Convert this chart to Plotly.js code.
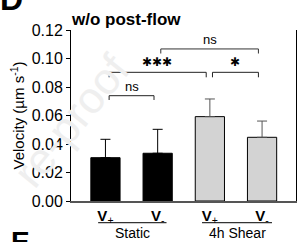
<!DOCTYPE html>
<html>
<head>
<meta charset="utf-8">
<script src="https://cdn.plot.ly/plotly-3.0.1.min.js"></script>
<style>html,body{margin:0;padding:0;background:#fff;}#chart{width:298px;height:242px;}</style>
</head>
<body>
<div id="chart"></div>
<script>
// Data
const categories = [0, 1, 2, 3];
const tickLabels = ["<b>V</b><sub>+</sub>", "<b>V</b><sub>-</sub>", "<b>V</b><sub>+</sub>", "<b>V</b><sub>-</sub>"];
const groupLabels = ["Static", "4h Shear"];
const velocity = [0.0304, 0.0335, 0.0592, 0.0447];
const errorPlus = [0.0129, 0.0168, 0.0124, 0.0114];
const barColors = ["#000000", "#000000", "#d3d3d3", "#d3d3d3"];
const sigLabels = ["ns", "✱✱✱", "✱", "ns"];

const font = "Liberation Sans, Arial, sans-serif";

const traces = [
  {
    type: "bar", x: categories.slice(0, 2), y: velocity.slice(0, 2), width: 0.56,
    marker: {color: barColors.slice(0, 2), line: {color: "#000", width: 1}},
    error_y: {type: "data", array: errorPlus.slice(0, 2), symmetric: false, arrayminus: [0, 0], color: "#000", thickness: 1, width: 5},
    hoverinfo: "none"
  },
  {
    type: "bar", x: categories.slice(2), y: velocity.slice(2), width: 0.56,
    marker: {color: barColors.slice(2), line: {color: "#000", width: 1}},
    error_y: {type: "data", array: errorPlus.slice(2), symmetric: false, arrayminus: [0, 0], color: "#555", thickness: 1, width: 5},
    hoverinfo: "none"
  }
];

function bracket(x0, x1, y, drop, color) {
  return [
    {type: "line", xref: "x", yref: "y", x0: x0, x1: x1, y0: y, y1: y, line: {color: color, width: 1}},
    {type: "line", xref: "x", yref: "y", x0: x0, x1: x0, y0: y, y1: y - drop, line: {color: color, width: 1}},
    {type: "line", xref: "x", yref: "y", x0: x1, x1: x1, y0: y, y1: y - drop, line: {color: color, width: 1}}
  ];
}

const shapes = [].concat(
  bracket(0.07, 0.93, 0.0739, 0.003, "#222"),
  bracket(0.07, 1.93, 0.0903, 0.0035, "#222"),
  bracket(2.05, 2.93, 0.0903, 0.0035, "#222"),
  bracket(1.06, 2.93, 0.1067, 0.0032, "#333"),
  [
    {type: "line", xref: "x", yref: "paper", x0: -0.14, x1: 1.17, y0: -0.127, y1: -0.127, line: {color: "#000", width: 1}},
    {type: "line", xref: "x", yref: "paper", x0: 1.85, x1: 3.19, y0: -0.127, y1: -0.127, line: {color: "#000", width: 1}}
  ]
);

const annotations = [
  {text: "re-proof", xref: "paper", yref: "paper", x: 0.0, y: 0.47, xanchor: "center", yanchor: "middle", showarrow: false, textangle: -51,
   font: {family: font, size: 44, color: "#efefef"}},
  {text: sigLabels[0], xref: "x", yref: "y", x: 0.5, y: 0.0739, yanchor: "bottom", showarrow: false, font: {family: font, size: 13, color: "#000"}},
  {text: sigLabels[1], xref: "x", yref: "y", x: 0.98, y: 0.0912, yanchor: "bottom", showarrow: false, font: {family: "DejaVu Sans", size: 12, color: "#000"}},
  {text: sigLabels[2], xref: "x", yref: "y", x: 2.49, y: 0.0912, yanchor: "bottom", showarrow: false, font: {family: "DejaVu Sans", size: 12, color: "#000"}},
  {text: sigLabels[3], xref: "x", yref: "y", x: 1.995, y: 0.1067, yanchor: "bottom", showarrow: false, font: {family: font, size: 13, color: "#000"}},
  {text: groupLabels[0], xref: "x", yref: "paper", x: 0.52, y: -0.13, yanchor: "top", showarrow: false, font: {family: font, size: 14, color: "#000"}},
  {text: groupLabels[1], xref: "x", yref: "paper", x: 2.52, y: -0.13, yanchor: "top", showarrow: false, font: {family: font, size: 14, color: "#000"}},
  {text: "<b>w/o post-flow</b>", xref: "paper", yref: "paper", x: -0.008, y: 0.995, xanchor: "left", yanchor: "bottom", showarrow: false, font: {family: font, size: 17, color: "#000"}},
  {text: "<b>D</b>", xref: "paper", yref: "paper", x: -0.325, y: 1.062, xanchor: "left", yanchor: "bottom", showarrow: false, font: {family: font, size: 32, color: "#000"}},
  {text: "<b>E</b>", xref: "paper", yref: "paper", x: -0.275, y: -0.135, xanchor: "left", yanchor: "top", showarrow: false, font: {family: font, size: 28, color: "#000"}}
];

const layout = {
  width: 298, height: 242,
  margin: {l: 71, r: 2, t: 30, b: 41, pad: 0},
  paper_bgcolor: "#fff", plot_bgcolor: "rgba(0,0,0,0)",
  showlegend: false,
  font: {family: font, color: "#000"},
  bargap: 0,
  xaxis: {
    range: [-0.66, 3.65], tickvals: categories, ticktext: tickLabels,
    showgrid: false, zeroline: false, showline: true, linecolor: "#555", linewidth: 1.5,
    ticks: "", mirror: false, tickfont: {family: font, size: 15, color: "#000"}, fixedrange: true
  },
  yaxis: {
    range: [0, 0.12], dtick: 0.02, tickformat: ".2f",
    showgrid: false, zeroline: false, showline: true, linecolor: "#000", linewidth: 1,
    ticks: "outside", ticklen: 4, tickcolor: "#000", mirror: true,
    tickfont: {family: font, size: 16, color: "#000"},
    title: {text: "Velocity (µm s<sup>-1</sup>)", font: {family: font, size: 15, color: "#000"}, standoff: 3},
    fixedrange: true
  },
  shapes: shapes,
  annotations: annotations
};

Plotly.newPlot("chart", traces, layout, {displayModeBar: false, staticPlot: true});
</script>
</body>
</html>
